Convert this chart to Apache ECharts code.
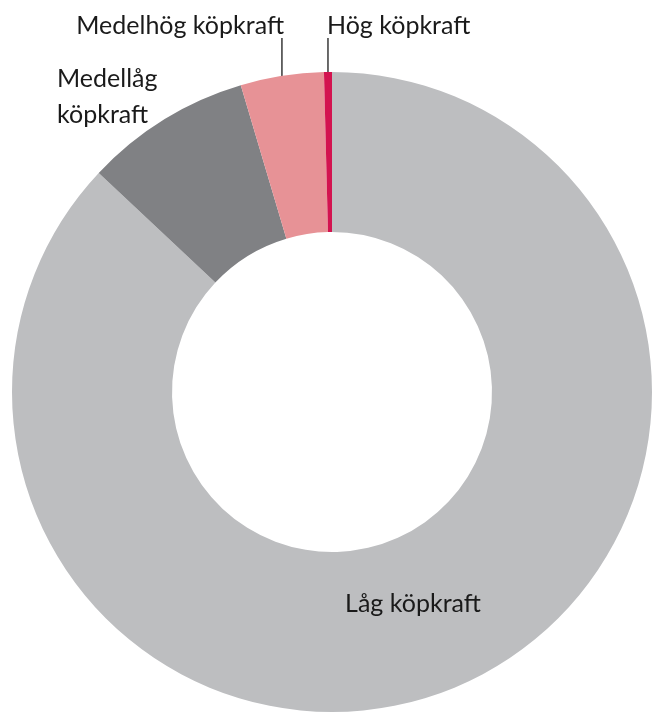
<!DOCTYPE html>
<html>
<head>
<meta charset="utf-8">
<script src="https://cdn.jsdelivr.net/npm/echarts@6/dist/echarts.min.js"></script>
<style>
  html, body { margin: 0; padding: 0; background: #fff; }
  #chart { width: 652px; height: 712px; }
</style>
</head>
<body>
<div id="chart"></div>
<script>
// data, clockwise from the top
const categories = ['Låg köpkraft', 'Medellåg\nköpkraft', 'Medelhög köpkraft', 'Hög köpkraft'];
const shares = [87.0, 8.4, 4.2, 0.4];
const colors = ['#bdbec0', '#808184', '#e79296', '#d3134f'];

const chart = echarts.init(document.getElementById('chart'));

// where each label sits; leader lines go straight up
const labelSpots = {
  0: { x: 413, y: 604, align: 'center', line: false },
  1: { x: 57, y: 97, align: 'left', line: false },
  2: { x: 284, y: 26, align: 'right', line: true },
  3: { x: 327, y: 26, align: 'left', line: true }
};

chart.setOption({
  animation: false,
  textStyle: { fontFamily: 'Lato' },
  series: [
    {
      type: 'pie',
      center: [332, 392],
      radius: [160, 320],
      startAngle: 90,
      clockwise: true,
      avoidLabelOverlap: false,
      label: {
        color: '#1a1a1a',
        fontSize: 25,
        fontFamily: 'Lato',
        lineHeight: 36
      },
      labelLine: {
        show: true,
        length: 10,
        length2: 10,
        smooth: false,
        lineStyle: { color: '#1a1a1a', width: 1.3 }
      },
      labelLayout: params => {
        const spot = labelSpots[params.dataIndex];
        if (!spot) return {};
        const start = params.labelLinePoints ? params.labelLinePoints[0] : null;
        return {
          x: spot.x,
          y: spot.y,
          align: spot.align,
          verticalAlign: 'middle',
          labelLinePoints: spot.line && start
            ? [[start[0], start[1]], [start[0], 38], [start[0], 38]]
            : undefined
        };
      },
      data: categories.map((name, i) => ({
        name,
        value: shares[i],
        itemStyle: { color: colors[i] },
        label: i === 0
          ? { position: 'inside', formatter: '{b}' }
          : { position: 'outside', formatter: '{b}' },
        labelLine: { show: i >= 2 }
      }))
    }
  ]
});
</script>
</body>
</html>
